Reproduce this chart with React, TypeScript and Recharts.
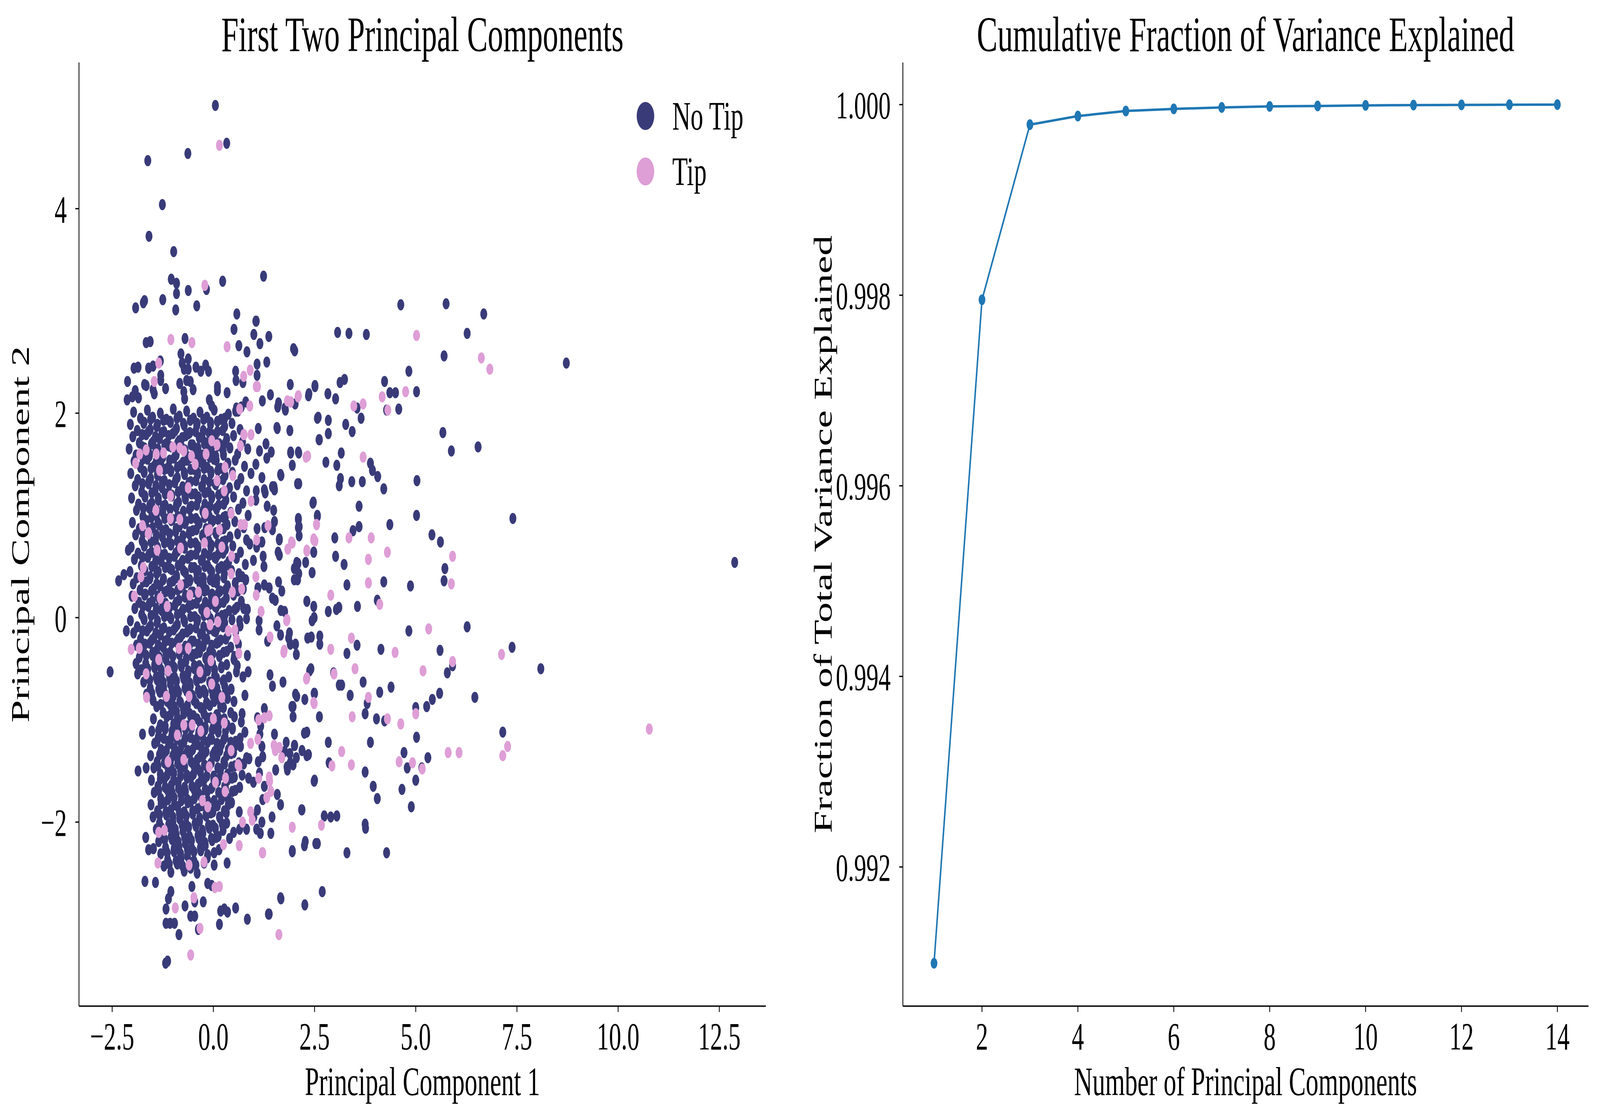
import { ScatterChart, Scatter, LineChart, Line, XAxis, YAxis } from 'recharts';

const FONT = '"Liberation Serif", "Times New Roman", serif';
const NAVY = '#393b79';
const PINK = '#de9ed6';
const BLUE = '#1f77b4';
const PAGE_W = 6564;
const PAGE_H = 2865;

// ---- left panel: first two principal components, flat [x, y, x, y, ...] ----
const noTipCore = [
  -1.97,2.01, -1.8,1.95, -1.63,2.03, -1.5,1.96, -1.31,2.0, -1.16,1.94, -0.99,2.04, -0.84,1.97, -0.66,2.02, -0.49,1.95, -0.33,2.01, -0.16,1.96, 0.02,2.03, 0.19,1.94, 0.37,1.99, 0.55,2.02,
  -2.05,1.89, -1.88,1.83, -1.71,1.91, -1.56,1.84, -1.4,1.87, -1.22,1.82, -1.07,1.92, -0.91,1.85, -0.74,1.9, -0.58,1.81, -0.41,1.88, -0.25,1.83, -0.07,1.91, 0.1,1.82, 0.28,1.87, 0.46,1.9, 0.66,1.84,
  -1.99,1.77, -1.83,1.71, -1.66,1.79, -1.49,1.72, -1.33,1.75, -1.17,1.7, -1.0,1.8, -0.85,1.73, -0.68,1.78, -0.51,1.69, -0.35,1.76, -0.18,1.71, -0.02,1.79, 0.15,1.7, 0.33,1.75, 0.5,1.78, 0.72,1.72,
  -2.08,1.65, -1.91,1.59, -1.75,1.67, -1.58,1.6, -1.42,1.63, -1.26,1.58, -1.1,1.68, -0.93,1.61, -0.77,1.66, -0.6,1.57, -0.44,1.64, -0.27,1.59, -0.11,1.67, 0.06,1.58, 0.24,1.63, 0.41,1.66, 0.6,1.6, 0.85,1.65,
  -1.96,1.53, -1.8,1.47, -1.63,1.55, -1.47,1.48, -1.3,1.51, -1.14,1.46, -0.97,1.56, -0.81,1.49, -0.65,1.54, -0.48,1.45, -0.32,1.52, -0.15,1.47, 0.01,1.55, 0.18,1.46, 0.36,1.51, 0.54,1.54, 0.77,1.48,
  -2.04,1.41, -1.87,1.35, -1.71,1.43, -1.55,1.36, -1.38,1.39, -1.21,1.34, -1.05,1.44, -0.89,1.37, -0.72,1.42, -0.56,1.33, -0.39,1.4, -0.23,1.35, -0.06,1.43, 0.11,1.34, 0.29,1.39, 0.47,1.42, 0.68,1.36, 0.93,1.41,
  -1.93,1.29, -1.77,1.23, -1.6,1.31, -1.44,1.24, -1.27,1.27, -1.11,1.22, -0.95,1.32, -0.78,1.25, -0.62,1.3, -0.45,1.21, -0.29,1.28, -0.12,1.23, 0.04,1.31, 0.22,1.22, 0.4,1.27, 0.59,1.3, 0.82,1.24,
  -2.02,1.17, -1.85,1.11, -1.69,1.19, -1.52,1.12, -1.36,1.15, -1.19,1.1, -1.03,1.2, -0.86,1.13, -0.7,1.18, -0.54,1.09, -0.37,1.16, -0.21,1.11, -0.04,1.19, 0.13,1.1, 0.31,1.15, 0.5,1.18, 0.73,1.12,
  -1.9,1.05, -1.74,0.99, -1.58,1.07, -1.41,1.0, -1.25,1.03, -1.08,0.98, -0.92,1.08, -0.76,1.01, -0.59,1.06, -0.43,0.97, -0.26,1.04, -0.1,0.99, 0.07,1.07, 0.25,0.98, 0.43,1.03, 0.62,1.06, 0.86,1.0,
  -2.0,0.93, -1.83,0.87, -1.66,0.95, -1.5,0.88, -1.34,0.91, -1.17,0.86, -1.01,0.96, -0.84,0.89, -0.68,0.94, -0.51,0.85, -0.35,0.92, -0.18,0.87, -0.01,0.95, 0.16,0.86, 0.34,0.91, 0.53,0.94, 0.75,0.88,
  -1.92,0.81, -1.76,0.75, -1.59,0.83, -1.43,0.76, -1.26,0.79, -1.1,0.74, -0.93,0.84, -0.77,0.77, -0.6,0.82, -0.44,0.73, -0.27,0.8, -0.11,0.75, 0.06,0.83, 0.23,0.74, 0.41,0.79, 0.6,0.82, 0.82,0.76,
  -2.03,0.69, -1.86,0.63, -1.7,0.71, -1.53,0.64, -1.37,0.67, -1.2,0.62, -1.04,0.72, -0.88,0.65, -0.71,0.7, -0.55,0.61, -0.38,0.68, -0.22,0.63, -0.05,0.71, 0.12,0.62, 0.3,0.67, 0.48,0.7, 0.67,0.64,
  -1.95,0.57, -1.78,0.51, -1.62,0.59, -1.45,0.52, -1.29,0.55, -1.12,0.5, -0.96,0.6, -0.8,0.53, -0.63,0.58, -0.47,0.49, -0.3,0.56, -0.14,0.51, 0.03,0.59, 0.2,0.5, 0.38,0.55, 0.57,0.58, 0.79,0.52,
  -2.06,0.45, -1.89,0.39, -1.73,0.47, -1.56,0.4, -1.4,0.43, -1.23,0.38, -1.07,0.48, -0.91,0.41, -0.74,0.46, -0.58,0.37, -0.41,0.44, -0.25,0.39, -0.08,0.47, 0.09,0.38, 0.27,0.43, 0.45,0.46, 0.64,0.4,
  -1.98,0.33, -1.81,0.27, -1.65,0.35, -1.48,0.28, -1.32,0.31, -1.15,0.26, -0.99,0.36, -0.82,0.29, -0.66,0.34, -0.5,0.25, -0.33,0.32, -0.17,0.27, 0.0,0.35, 0.17,0.26, 0.35,0.31, 0.54,0.34, 0.74,0.28,
  -2.01,0.21, -1.84,0.15, -1.68,0.23, -1.51,0.16, -1.35,0.19, -1.18,0.14, -1.02,0.24, -0.85,0.17, -0.69,0.22, -0.53,0.13, -0.36,0.2, -0.2,0.15, -0.03,0.23, 0.14,0.14, 0.32,0.19, 0.5,0.22, 0.69,0.16,
  -1.94,0.09, -1.77,0.03, -1.61,0.11, -1.44,0.04, -1.28,0.07, -1.11,0.02, -0.95,0.12, -0.79,0.05, -0.62,0.1, -0.46,0.01, -0.29,0.08, -0.13,0.03, 0.04,0.11, 0.21,0.02, 0.39,0.07, 0.58,0.1,
  -2.05,-0.03, -1.88,-0.09, -1.72,-0.01, -1.55,-0.08, -1.39,-0.05, -1.22,-0.1, -1.06,0.0, -0.89,-0.07, -0.73,-0.02, -0.57,-0.11, -0.4,-0.04, -0.24,-0.09, -0.07,-0.01, 0.1,-0.1, 0.28,-0.05, 0.46,-0.02, 0.66,-0.08,
  -1.97,-0.15, -1.8,-0.21, -1.64,-0.13, -1.47,-0.2, -1.31,-0.17, -1.14,-0.22, -0.98,-0.12, -0.81,-0.19, -0.65,-0.14, -0.49,-0.23, -0.32,-0.16, -0.16,-0.21, 0.01,-0.13, 0.18,-0.22, 0.36,-0.17, 0.55,-0.14,
  -1.9,-0.27, -1.73,-0.33, -1.57,-0.25, -1.4,-0.32, -1.24,-0.29, -1.07,-0.34, -0.91,-0.24, -0.74,-0.31, -0.58,-0.26, -0.42,-0.35, -0.25,-0.28, -0.09,-0.33, 0.08,-0.25, 0.25,-0.34, 0.43,-0.29, 0.62,-0.26,
  -1.83,-0.39, -1.67,-0.45, -1.5,-0.37, -1.34,-0.44, -1.17,-0.41, -1.01,-0.46, -0.84,-0.36, -0.68,-0.43, -0.52,-0.38, -0.35,-0.47, -0.19,-0.4, -0.02,-0.45, 0.15,-0.37, 0.33,-0.46, 0.51,-0.41,
  -1.78,-0.51, -1.62,-0.57, -1.45,-0.49, -1.29,-0.56, -1.12,-0.53, -0.96,-0.58, -0.79,-0.48, -0.63,-0.55, -0.47,-0.5, -0.3,-0.59, -0.14,-0.52, 0.03,-0.57, 0.2,-0.49, 0.38,-0.58, 0.57,-0.53,
  -1.72,-0.63, -1.56,-0.69, -1.39,-0.61, -1.23,-0.68, -1.06,-0.65, -0.9,-0.7, -0.73,-0.6, -0.57,-0.67, -0.41,-0.62, -0.24,-0.71, -0.08,-0.64, 0.09,-0.69, 0.26,-0.61, 0.44,-0.7,
  -1.65,-0.75, -1.49,-0.81, -1.32,-0.73, -1.16,-0.8, -0.99,-0.77, -0.83,-0.82, -0.66,-0.72, -0.5,-0.79, -0.34,-0.74, -0.17,-0.83, -0.01,-0.76, 0.16,-0.81, 0.33,-0.73, 0.51,-0.82,
  -1.4,-0.87, -1.24,-0.93, -1.07,-0.85, -0.91,-0.92, -0.74,-0.89, -0.58,-0.94, -0.42,-0.84, -0.25,-0.91, -0.09,-0.86, 0.08,-0.95, 0.25,-0.88, 0.43,-0.93,
  -1.48,-0.99, -1.31,-1.05, -1.15,-0.97, -0.98,-1.04, -0.82,-1.01, -0.65,-1.06, -0.49,-0.96, -0.33,-1.03, -0.16,-0.98, 0.0,-1.07, 0.17,-1.0, 0.34,-1.05, 0.52,-0.97,
  -1.52,-1.11, -1.36,-1.17, -1.19,-1.09, -1.03,-1.16, -0.86,-1.13, -0.7,-1.18, -0.54,-1.08, -0.37,-1.15, -0.21,-1.1, -0.04,-1.19, 0.12,-1.12, 0.29,-1.17, 0.47,-1.09, 0.66,-1.18,
  -1.45,-1.23, -1.29,-1.29, -1.12,-1.21, -0.96,-1.28, -0.79,-1.25, -0.63,-1.3, -0.47,-1.2, -0.3,-1.27, -0.14,-1.22, 0.03,-1.31, 0.2,-1.24, 0.37,-1.29, 0.55,-1.21,
  -1.55,-1.35, -1.39,-1.41, -1.22,-1.33, -1.06,-1.4, -0.89,-1.37, -0.73,-1.42, -0.57,-1.32, -0.4,-1.39, -0.24,-1.34, -0.07,-1.43, 0.09,-1.36, 0.26,-1.41, 0.44,-1.33, 0.63,-1.42,
  -1.47,-1.47, -1.31,-1.53, -1.14,-1.45, -0.98,-1.52, -0.81,-1.49, -0.65,-1.54, -0.49,-1.44, -0.32,-1.51, -0.16,-1.46, 0.01,-1.55, 0.18,-1.48, 0.35,-1.53, 0.53,-1.45, 0.71,-1.54,
  -1.53,-1.59, -1.37,-1.65, -1.2,-1.57, -1.04,-1.64, -0.87,-1.61, -0.71,-1.66, -0.55,-1.56, -0.38,-1.63, -0.22,-1.58, -0.05,-1.67, 0.11,-1.6, 0.28,-1.65, 0.46,-1.57, 0.65,-1.66,
  -1.46,-1.71, -1.3,-1.77, -1.13,-1.69, -0.97,-1.76, -0.8,-1.73, -0.64,-1.78, -0.48,-1.68, -0.31,-1.75, -0.15,-1.7, 0.02,-1.79, 0.19,-1.72, 0.36,-1.77, 0.54,-1.69,
  -1.54,-1.83, -1.38,-1.89, -1.21,-1.81, -1.05,-1.88, -0.88,-1.85, -0.72,-1.9, -0.56,-1.8, -0.39,-1.87, -0.23,-1.82, -0.06,-1.91, 0.1,-1.84, 0.27,-1.89, 0.45,-1.81, 0.64,-1.9,
  -1.49,-1.95, -1.33,-2.01, -1.16,-1.93, -1.0,-2.0, -0.83,-1.97, -0.67,-2.02, -0.51,-1.92, -0.34,-1.99, -0.18,-1.94, -0.01,-2.03, 0.16,-1.96, 0.33,-2.01,
  -1.41,-2.07, -1.25,-2.13, -1.08,-2.05, -0.92,-2.12, -0.75,-2.09, -0.59,-2.14, -0.43,-2.04, -0.26,-2.11, -0.1,-2.06, 0.07,-2.15, 0.24,-2.08,
  -1.35,-2.19, -1.18,-2.25, -1.02,-2.17, -0.85,-2.24, -0.69,-2.21, -0.53,-2.26, -0.36,-2.16, -0.2,-2.23, -0.03,-2.18, 0.14,-2.27,
  -1.3,-2.31, -1.13,-2.37, -0.97,-2.29, -0.8,-2.36, -0.64,-2.33, -0.48,-2.38, -0.31,-2.28, -0.15,-2.35, 0.02,-2.3,
  -1.22,-2.43, -1.05,-2.49, -0.89,-2.41, -0.72,-2.48, -0.56,-2.45, -0.4,-2.5, -0.23,-2.4,
];

// second, tighter layer where the cloud is solid
const noTipDense = [
  -1.72,1.9, -1.55,1.94, -1.38,1.89, -1.23,1.93, -1.06,1.91, -0.9,1.95, -0.72,1.88, -0.57,1.93, -0.4,1.9, -0.24,1.94, -0.07,1.89, 0.1,1.92, 0.28,1.95,
  -1.76,1.79, -1.6,1.82, -1.43,1.77, -1.27,1.81, -1.1,1.78, -0.94,1.83, -0.77,1.76, -0.61,1.8, -0.44,1.82, -0.28,1.77, -0.11,1.81, 0.05,1.78, 0.23,1.83,
  -1.7,1.66, -1.53,1.7, -1.37,1.65, -1.2,1.69, -1.04,1.67, -0.88,1.71, -0.7,1.64, -0.55,1.69, -0.38,1.66, -0.22,1.7, -0.05,1.65, 0.12,1.68, 0.3,1.71,
  -1.74,1.55, -1.58,1.58, -1.41,1.53, -1.25,1.57, -1.08,1.54, -0.92,1.59, -0.75,1.52, -0.59,1.56, -0.42,1.58, -0.26,1.53, -0.09,1.57, 0.07,1.54, 0.25,1.59,
  -1.71,1.42, -1.54,1.46, -1.38,1.41, -1.21,1.45, -1.05,1.43, -0.89,1.47, -0.71,1.4, -0.56,1.45, -0.39,1.42, -0.23,1.46, -0.06,1.41, 0.11,1.44, 0.29,1.47,
  -1.75,1.31, -1.59,1.34, -1.42,1.29, -1.26,1.33, -1.09,1.3, -0.93,1.35, -0.76,1.28, -0.6,1.32, -0.43,1.34, -0.27,1.29, -0.1,1.33, 0.06,1.3, 0.24,1.35,
  -1.69,1.18, -1.52,1.22, -1.36,1.17, -1.19,1.21, -1.03,1.19, -0.87,1.23, -0.69,1.16, -0.54,1.21, -0.37,1.18, -0.21,1.22, -0.04,1.17, 0.13,1.2, 0.31,1.23,
  -1.73,1.07, -1.57,1.1, -1.4,1.05, -1.24,1.09, -1.07,1.06, -0.91,1.11, -0.74,1.04, -0.58,1.08, -0.41,1.1, -0.25,1.05, -0.08,1.09, 0.08,1.06, 0.26,1.11,
  -1.7,0.94, -1.53,0.98, -1.37,0.93, -1.2,0.97, -1.04,0.95, -0.88,0.99, -0.7,0.92, -0.55,0.97, -0.38,0.94, -0.22,0.98, -0.05,0.93, 0.12,0.96, 0.3,0.99,
  -1.74,0.83, -1.58,0.86, -1.41,0.81, -1.25,0.85, -1.08,0.82, -0.92,0.87, -0.75,0.8, -0.59,0.84, -0.42,0.86, -0.26,0.81, -0.09,0.85, 0.07,0.82, 0.25,0.87,
  -1.71,0.7, -1.54,0.74, -1.38,0.69, -1.21,0.73, -1.05,0.71, -0.89,0.75, -0.71,0.68, -0.56,0.73, -0.39,0.7, -0.23,0.74, -0.06,0.69, 0.11,0.72, 0.29,0.75,
  -1.75,0.59, -1.59,0.62, -1.42,0.57, -1.26,0.61, -1.09,0.58, -0.93,0.63, -0.76,0.56, -0.6,0.6, -0.43,0.62, -0.27,0.57, -0.1,0.61, 0.06,0.58, 0.24,0.63,
  -1.69,0.46, -1.52,0.5, -1.36,0.45, -1.19,0.49, -1.03,0.47, -0.87,0.51, -0.69,0.44, -0.54,0.49, -0.37,0.46, -0.21,0.5, -0.04,0.45, 0.13,0.48, 0.31,0.51,
  -1.73,0.35, -1.57,0.38, -1.4,0.33, -1.24,0.37, -1.07,0.34, -0.91,0.39, -0.74,0.32, -0.58,0.36, -0.41,0.38, -0.25,0.33, -0.08,0.37, 0.08,0.34, 0.26,0.39,
  -1.7,0.22, -1.53,0.26, -1.37,0.21, -1.2,0.25, -1.04,0.23, -0.88,0.27, -0.7,0.2, -0.55,0.25, -0.38,0.22, -0.22,0.26, -0.05,0.21, 0.12,0.24, 0.3,0.27,
  -1.74,0.11, -1.58,0.14, -1.41,0.09, -1.25,0.13, -1.08,0.1, -0.92,0.15, -0.75,0.08, -0.59,0.12, -0.42,0.14, -0.26,0.09, -0.09,0.13, 0.07,0.1, 0.25,0.15,
  -1.71,-0.02, -1.54,0.02, -1.38,-0.03, -1.21,0.01, -1.05,-0.01, -0.89,0.03, -0.71,-0.04, -0.56,0.01, -0.39,-0.02, -0.23,0.02, -0.06,-0.03, 0.11,0.0, 0.29,0.03,
  -1.75,-0.13, -1.59,-0.1, -1.42,-0.15, -1.26,-0.11, -1.09,-0.14, -0.93,-0.09, -0.76,-0.16, -0.6,-0.12, -0.43,-0.1, -0.27,-0.15, -0.1,-0.11, 0.06,-0.14, 0.24,-0.09,
  -1.69,-0.26, -1.52,-0.22, -1.36,-0.27, -1.19,-0.23, -1.03,-0.25, -0.87,-0.21, -0.69,-0.28, -0.54,-0.23, -0.37,-0.26, -0.21,-0.22, -0.04,-0.27, 0.13,-0.24, 0.31,-0.21,
  -1.66,-0.37, -1.5,-0.34, -1.33,-0.39, -1.17,-0.35, -1.0,-0.38, -0.84,-0.33, -0.67,-0.4, -0.51,-0.36, -0.34,-0.34, -0.18,-0.39, -0.01,-0.35, 0.15,-0.38, 0.33,-0.33,
  -1.62,-0.5, -1.45,-0.46, -1.29,-0.51, -1.12,-0.47, -0.96,-0.49, -0.8,-0.45, -0.62,-0.52, -0.47,-0.47, -0.3,-0.5, -0.14,-0.46, 0.03,-0.51, 0.2,-0.48,
  -1.57,-0.61, -1.41,-0.58, -1.24,-0.63, -1.08,-0.59, -0.91,-0.62, -0.75,-0.57, -0.58,-0.64, -0.42,-0.6, -0.25,-0.58, -0.09,-0.63, 0.08,-0.59, 0.24,-0.62,
  -1.52,-0.74, -1.35,-0.7, -1.19,-0.75, -1.02,-0.71, -0.86,-0.73, -0.7,-0.69, -0.52,-0.76, -0.37,-0.71, -0.2,-0.74, -0.04,-0.7, 0.13,-0.75, 0.3,-0.72,
  -1.3,-0.85, -1.14,-0.82, -0.97,-0.87, -0.81,-0.83, -0.64,-0.86, -0.48,-0.81, -0.31,-0.88, -0.15,-0.84, 0.02,-0.82, 0.18,-0.87,
  -1.06,-0.95, -0.89,-0.98, -0.73,-0.94, -0.56,-0.97, -0.4,-0.99, -0.23,-0.94, -0.07,-0.98, 0.1,-0.95, 0.27,-0.99,
  -1.35,-1.1, -1.19,-1.06, -1.02,-1.11, -0.86,-1.07, -0.69,-1.09, -0.53,-1.05, -0.36,-1.12, -0.2,-1.07, -0.03,-1.1, 0.13,-1.06, 0.3,-1.11, 0.47,-1.08,
  -1.39,-1.21, -1.23,-1.18, -1.06,-1.23, -0.9,-1.19, -0.73,-1.22, -0.57,-1.17, -0.4,-1.24, -0.24,-1.2, -0.07,-1.18, 0.09,-1.23, 0.26,-1.19, 0.43,-1.22,
  -1.33,-1.34, -1.16,-1.3, -1.0,-1.35, -0.83,-1.31, -0.67,-1.33, -0.51,-1.29, -0.33,-1.36, -0.18,-1.31, -0.01,-1.34, 0.16,-1.3, 0.33,-1.35, 0.5,-1.32,
  -1.37,-1.45, -1.21,-1.42, -1.04,-1.47, -0.88,-1.43, -0.71,-1.46, -0.55,-1.41, -0.38,-1.48, -0.22,-1.44, -0.05,-1.42, 0.11,-1.47, 0.28,-1.43, 0.45,-1.46,
  -1.31,-1.58, -1.14,-1.54, -0.98,-1.59, -0.81,-1.55, -0.65,-1.57, -0.49,-1.53, -0.31,-1.6, -0.16,-1.55, 0.01,-1.58, 0.18,-1.54, 0.35,-1.59, 0.52,-1.56,
  -1.35,-1.69, -1.19,-1.66, -1.02,-1.71, -0.86,-1.67, -0.69,-1.7, -0.53,-1.65, -0.36,-1.72, -0.2,-1.68, -0.03,-1.66, 0.13,-1.71, 0.3,-1.67, 0.47,-1.7,
  -1.29,-1.82, -1.12,-1.78, -0.96,-1.83, -0.79,-1.79, -0.63,-1.81, -0.47,-1.77, -0.29,-1.84, -0.14,-1.79, 0.03,-1.82, 0.2,-1.78, 0.37,-1.83,
  -1.33,-1.93, -1.17,-1.9, -1.0,-1.95, -0.84,-1.91, -0.67,-1.94, -0.51,-1.89, -0.34,-1.96, -0.18,-1.92, -0.01,-1.9, 0.15,-1.95, 0.32,-1.91,
  -1.27,-2.06, -1.1,-2.02, -0.94,-2.07, -0.77,-2.03, -0.61,-2.05, -0.45,-2.01, -0.27,-2.08, -0.12,-2.03, 0.05,-2.06, 0.22,-2.02,
  -1.2,-2.17, -1.04,-2.14, -0.87,-2.19, -0.71,-2.15, -0.54,-2.18, -0.38,-2.13, -0.21,-2.2, -0.05,-2.16, 0.12,-2.14,
  -1.14,-2.3, -0.97,-2.26, -0.81,-2.31, -0.64,-2.27, -0.48,-2.29, -0.32,-2.25, -0.14,-2.32,
  -1.09,-2.41, -0.92,-2.38, -0.76,-2.43, -0.59,-2.39, -0.43,-2.42,
];

const noTipOuter = [
  0.05,5.01, 0.33,4.64, -0.63,4.54, -1.62,4.47, -1.26,4.04, -1.59,3.73, -0.98,3.58, -1.04,3.31, -0.91,3.27, -0.91,3.17,
  -0.93,3.01, -0.62,3.2, -1.25,3.11, -0.41,3.05, -0.17,3.21, 0.23,3.29, 1.24,3.34, -1.92,3.03, -1.73,3.08, -1.7,3.1,
  0.58,2.97, 0.51,2.82, 1.05,2.9, 1.0,2.77, 1.15,2.68, 1.37,2.75, 0.63,2.66, 0.83,2.6, 2.01,2.61, -0.7,2.73,
  -1.66,2.69, -1.56,2.7, -0.8,2.58, -0.62,2.53, -1.31,2.51, -1.96,2.44, -1.86,2.45, -1.6,2.44, -1.49,2.46, -0.77,2.49,
  -0.72,2.43, -0.62,2.43, -0.43,2.45, -0.31,2.41, -0.19,2.47, -0.12,2.41, 0.55,2.41, 0.56,2.32, 0.73,2.3, 1.08,2.48,
  1.08,2.37, 1.32,2.5, 1.9,2.28, -2.12,2.31, -1.3,2.37, -1.3,2.32, -1.7,2.28, -1.66,2.27, -1.18,2.24, -0.83,2.29,
  -0.73,2.21, -0.5,2.23, -0.66,2.32, -0.57,2.31, -1.93,2.22, -2.13,2.13, -2.0,2.16, -1.85,2.15, -1.49,2.23, -1.46,2.19,
  -0.71,2.14, 0.1,2.26, 0.1,2.22, 0.34,2.2, -0.1,2.13, -0.04,2.07, 0.8,2.11, 0.69,2.06, 0.57,2.05, 0.61,2.02,
  1.21,2.12, 1.41,2.18, 1.59,2.06, 1.78,2.03, 1.91,2.11, 2.02,2.09, 2.35,2.17, 2.51,2.26, 2.59,1.96, 2.61,1.74,
  1.11,1.85, 1.58,1.85, 1.89,1.83, 1.3,1.7, 1.43,1.62, 1.32,1.56, 1.14,1.63, 1.05,1.5, 1.91,1.61, 2.11,1.61,
  1.95,1.49, 1.67,1.39, 1.2,1.37, 2.11,1.31, 1.06,1.24, 1.05,1.15, 1.26,1.25, 1.28,1.22, 1.46,1.28, 1.51,1.25,
  2.47,1.13, 1.33,1.09, 1.49,1.05, 2.57,1.0, 2.1,0.97, 2.12,0.89, 2.12,0.8, 1.51,0.94, 1.46,0.86, 1.27,0.88,
  1.08,0.87, 1.2,0.74, 1.63,0.77,
  12.88,0.54, 8.72,2.49, 8.09,-0.5, 7.4,0.97, 7.38,-0.29, 7.15,-1.12, 6.68,2.97, 6.27,2.78, 6.54,1.67, 6.27,-0.09,
  6.46,-0.78, 5.75,3.07, 5.7,2.56, 5.67,1.81, 5.88,1.63, 5.72,0.48, 5.7,0.36, 5.6,-0.32, 5.61,0.74, 5.4,0.81,
  5.91,-0.47, 5.78,-0.54, 5.59,-0.74, 5.41,-0.8, 5.27,-0.87, 5.3,-1.37, 5.15,-1.47, 5.0,-0.88, 5.02,-1.17, 5.0,-1.59,
  4.89,-1.85, 4.79,-1.47, 4.66,-1.68, 4.71,-1.32, 5.03,1.34, 5.02,2.21, 5.02,1.0, 4.83,2.41, 4.87,0.31, 4.83,-0.13,
  4.63,3.06, 4.5,2.2, 4.58,2.04, 4.36,2.2, 4.28,2.03, 4.23,2.31, 4.21,1.26, 4.36,0.91, 4.21,0.35, 4.05,0.17,
  4.14,-0.31, 4.11,-0.73, 4.39,-0.68, 4.23,-1.01, 4.03,-0.99, 4.05,-1.77, 3.95,-1.65, 4.28,-2.3, 4.06,1.38, 3.93,1.44,
  3.88,1.51, 3.68,1.33, 3.6,1.09, 3.6,0.89, 3.45,0.85, 3.42,1.33, 3.65,1.95, 3.55,2.05, 3.78,2.77, 3.35,2.78,
  3.07,2.79, 3.24,2.33, 3.13,2.3, 3.02,2.14, 2.83,2.19, 3.27,1.89, 3.43,1.82, 2.84,1.93, 2.84,1.8, 2.62,1.74,
  2.57,1.95, 2.51,2.27, 2.36,2.19, 3.16,1.61, 3.14,1.36, 3.11,1.29, 2.78,1.52, 3.05,1.49, 2.46,1.12, 2.57,0.99,
  3.0,0.78, 3.23,0.52, 3.3,0.32, 3.02,0.6, 3.04,0.08, 3.1,0.1, 2.84,0.06, 2.48,0.64, 2.31,0.16, 2.48,0.11,
  3.56,0.11, 3.55,-0.27, 3.38,-0.76, 3.3,-0.35, 3.11,-0.66, 3.17,-0.66, 2.97,-0.54, 3.7,-0.63, 3.8,-0.84, 3.75,-0.94,
  3.88,-1.22, 3.75,-1.51, 3.75,-2.02, 3.76,-2.06, 3.3,-2.3, 3.05,-1.94, 2.9,-1.95, 2.74,-1.94, 2.86,-1.42, 2.84,-1.22,
  2.69,-2.68, 2.53,-2.21, 2.5,-1.59, 2.5,-0.74, 2.38,-0.52, 2.26,-0.8, 2.31,-1.12, 2.31,-1.35, 2.27,-2.19, 2.18,-1.88,
  2.26,-2.81, 1.95,-2.28, 2.05,-1.37, 1.9,-1.42, 1.83,-1.49, 2.0,-1.25, 2.03,-0.75, 1.94,-0.87, 1.86,-0.2, 1.76,0.06,
  2.0,0.48, 2.08,0.37, 2.09,0.53, 2.1,0.88, 2.1,0.96, 2.08,1.31, 2.1,1.62, 1.91,1.62, 1.98,2.63, 1.77,2.05,
  1.57,1.86, 1.61,2.1, 1.66,1.4, 1.5,1.28, 1.6,0.64, 1.38,-2.9, 1.67,-2.75, 1.06,2.9,
  -2.55,-0.53, -2.34,0.36, -2.21,0.42, -2.15,-0.13, -2.1,0.66, -1.91,-0.45, -1.87,-0.55, -1.75,-1.14, -1.86,-1.5, -1.66,-1.47,
  -1.67,-2.15, -1.6,-2.27, -1.48,-2.26, -1.69,-2.58, -1.43,-2.59, -1.18,-3.38, -1.13,-3.36, -0.85,-3.1, -0.37,-3.05, -1.17,-2.99,
  -1.07,-2.99, -0.96,-2.99, -1.17,-2.85, -1.11,-2.75, -1.05,-2.68, -0.7,-2.82, -0.56,-2.92, -0.46,-2.92, -0.46,-2.78, -0.25,-2.78,
  -0.53,-2.63, -0.14,-2.6, -0.04,-2.62, 0.18,-2.87, 0.27,-2.85, 0.35,-2.88, 0.15,-3.0, 0.55,-2.84, 0.84,-2.95, 1.36,-2.9,
  1.66,-2.74, 0.34,-2.4, 0.02,-2.42, 1.95,-2.29, 2.25,-2.23, 2.57,-2.21, 2.19,-1.88, 1.66,-1.83, 1.58,-1.73, 2.49,-1.6,
  1.54,-1.49, 1.09,-1.88, 1.16,-2.11, 1.42,-2.11, 1.45,-1.95, 1.2,-2.0, 1.26,-1.65, 1.22,-1.78, 1.0,-1.95, 1.07,-2.07,
  0.82,-2.07, 0.65,-2.07, 0.5,-2.1, 0.4,-2.16, 0.87,-1.57, 0.99,-1.61, 0.75,-1.43, 0.82,-1.37, 0.88,-1.38, 1.11,-1.41,
  1.14,-1.52, 1.22,-1.36, 1.2,-1.26, 1.15,-1.14, 1.17,-1.06, 1.26,-0.89, 1.09,-0.98, 0.78,-0.76, 0.86,-0.53, 0.73,-0.58,
  0.71,-0.94, 0.69,-1.02, 0.78,-1.12, 0.67,-1.26, 0.53,-1.26, 1.4,-0.56, 1.46,-0.67, 1.72,-0.63, 1.51,-1.14, 1.8,-1.22,
  1.76,-1.31, 1.89,-1.33, 2.01,-1.25, 2.05,-1.37, 1.97,-1.44, 1.82,-1.46, 2.19,-1.3, 2.35,-1.34, 2.25,-1.13, 1.97,-0.97,
  1.97,-0.87, 2.06,-0.77, 2.62,-0.97, 2.49,-0.74, 2.41,-0.5, 1.34,-0.23, 1.67,0.07, 1.9,-0.26, 2.03,-0.26, 2.05,-0.36,
  1.88,-0.15, 1.57,-0.08, 1.66,-0.17, 2.42,-0.19, 2.33,-0.2, 2.49,0.0, 2.44,-0.03, 2.31,0.16, 2.63,-0.18, 2.63,-0.26,
  2.28,0.54, 2.44,0.44, 2.48,0.64, 2.06,0.54, 2.11,0.43, 2.0,0.37, 1.63,0.61, 1.63,0.76, 1.69,0.26, 1.61,0.35,
  1.46,0.19, 1.53,0.17, 1.1,0.29, 1.26,0.32, 1.38,0.29, 1.13,-0.03, 1.13,-0.12, 1.25,0.5, 1.23,0.6, 1.07,0.69,
  0.9,0.72, 0.99,0.56, 0.8,0.37, 0.71,0.4, 0.84,0.08, 0.82,-0.01, 0.53,0.08, 0.84,-0.37, 0.52,-0.38, 0.59,-0.47,
  0.28,-0.67, 0.35,-0.79, 0.63,0.43, 0.61,0.26, 0.75,0.09, 0.65,-0.03,
];

const tipPoints = [
  10.77,-1.09, 7.12,-0.36, 7.15,-1.35, 7.27,-1.26, 6.62,2.54, 6.83,2.43, 5.88,0.33, 5.91,0.6, 5.91,-0.43, 5.8,-1.32,
  6.07,-1.32, 5.02,2.76, 4.75,2.21, 4.31,2.03, 4.17,2.16, 5.32,-0.11, 5.18,-0.52, 5.0,-0.94, 4.63,-1.04, 4.59,-1.41,
  4.92,-1.42, 5.16,-1.48, 4.49,-0.34, 4.3,0.64, 4.11,0.13, 3.83,0.34, 3.83,0.57, 3.9,0.78, 3.7,1.57, 3.7,2.09,
  3.47,2.07, 4.3,-0.99, 3.83,-0.78, 3.43,-0.97, 3.41,-1.44, 3.5,-0.5, 3.41,-0.2, 3.35,0.78, 3.17,-1.31, 2.93,-1.45,
  2.98,-0.55, 2.9,-0.31, 2.9,0.22, 2.48,-0.83, 2.31,-0.59, 2.67,-2.03, 2.33,1.58, 2.55,0.91, 2.51,0.75, 2.31,0.65,
  2.1,2.17, 1.91,2.11, 1.95,0.73, 1.81,-0.03, 1.75,-0.32, 1.62,-3.1, 1.95,-2.05, 1.22,-2.3, 1.38,-1.56, 1.63,-1.27,
  0.9,2.07, 0.75,1.79, 1.06,2.26, 0.91,2.42,
  0.15,4.62, -0.21,3.25, 0.34,2.65, -1.05,2.72, -0.53,2.69, -1.35,2.49, 0.75,2.36, 1.09,2.26, -1.46,2.31, 0.65,2.04,
  1.83,2.12, 2.09,2.16, 0.93,1.79, 0.76,1.79, 2.29,1.57, 0.93,1.14, 2.55,0.91, 2.48,0.77, 1.35,0.9, 0.77,0.91,
  1.07,0.76, 1.93,0.74,
  -1.82,1.6, -1.66,1.64, -1.41,1.6, -1.23,1.61, -1.0,1.67, -0.83,1.66, -0.73,1.63, -0.54,1.58, -0.45,1.5, -0.18,1.6,
  -0.04,1.73, 0.09,1.69, 0.29,1.47, 0.48,1.39, 0.67,1.68, 0.09,1.34, 0.27,1.24, -1.06,1.19, -0.62,1.27, -1.33,1.44,
  -1.92,1.51, -1.42,1.05, -0.83,0.96, -1.06,0.97, -0.09,0.86, -0.2,1.02, -1.75,0.9, -1.61,0.82, 0.44,1.02, 0.68,0.91,
  0.15,0.86, -0.22,0.73,
  -1.6,0.83, -1.39,0.66, -0.81,0.68, -0.14,0.85, 0.21,0.69, 0.45,0.6, 1.05,0.4, 1.18,0.06, 0.7,0.28, 0.44,0.43,
  0.47,0.25, -1.73,0.49, -1.79,0.4, -1.95,0.21, -2.03,-0.31, -1.83,-0.3, -1.66,-0.55, -1.65,-0.78, -1.35,-0.41, -1.14,0.11,
  -1.31,0.19, -0.81,0.32, -0.58,0.22, -0.37,0.25, 0.05,0.16, -0.08,-0.07, 0.11,-0.04, 0.37,-0.13, 0.53,-0.12, -0.06,-0.42,
  -0.16,0.05, -0.33,-0.53, -0.62,-0.3, -0.85,-0.3, -1.12,-0.52, -1.16,-0.77, -0.6,-0.77, -0.04,-0.65, 0.21,-0.78, 0.63,-0.35,
  0.57,-0.21, -0.73,-1.05, -0.52,-1.05, -0.31,-1.11, -0.89,-1.15, 0.0,-0.99, 0.27,-1.03, 0.44,-1.3, -1.12,-1.41, -0.73,-1.39,
  -0.1,-1.46, 0.05,-1.61, 0.3,-1.57, -0.27,-1.79, -0.14,-1.85, 0.29,-1.7, 0.61,-1.44, 0.92,-1.23, 1.1,-1.19, 1.12,-1.0,
  1.26,-0.98, 1.38,-0.96, 1.5,-1.25, 1.53,-1.3, 1.69,-1.37, 1.12,-1.57, 1.39,-1.6, 1.42,-1.7, 1.32,-1.76, 0.92,-1.9,
  0.96,-1.98, 0.72,-2.0, 0.64,-2.23, 0.25,-2.22, 1.21,-2.3, 1.74,-0.34, 1.82,-0.02, 1.4,-0.19, 2.3,-0.6, 2.49,-0.84,
  2.48,0.76, 2.31,0.66, 1.84,0.67, 1.06,0.22, 0.63,-1.45, -1.35,-2.1, -1.21,-2.08, -0.6,-2.42, -0.23,-2.39, -1.37,-2.4,
  0.04,-2.64, 0.15,-2.63, -0.94,-2.84, -0.48,-2.74, -0.33,-3.04, -0.56,-3.3,
];

const pcaXTicks = [-2.5, 0, 2.5, 5, 7.5, 10, 12.5];
const pcaYTicks = [-2, 0, 2, 4];
const legendLabels = ['No Tip', 'Tip'];

// ---- right panel: cumulative variance explained ----
const componentCounts = [1, 2, 3, 4, 5, 6, 7, 8, 9, 10, 11, 12, 13, 14];
const cumulativeVariance = [
  0.99099, 0.997952, 0.99979, 0.99988, 0.999933, 0.999955, 0.99997,
  0.999981, 0.999986, 0.999992, 0.999995, 0.999997, 0.999999, 1.0,
];
const varXTicks = [2, 4, 6, 8, 10, 12, 14];
const varYTicks = [0.992, 0.994, 0.996, 0.998, 1.0];

const toPoints = (flat: number[]) => {
  const out: { x: number; y: number }[] = [];
  for (let i = 0; i < flat.length; i += 2) out.push({ x: flat[i], y: flat[i + 1] });
  return out;
};

const fmt = (v: number, digits: number) => v.toFixed(digits).replace('-', '\u2212');

const dot = (fill: string) => (p: any) => <circle cx={p.cx} cy={p.cy} r={14.3} fill={fill} />;

const axisStroke = { stroke: '#000', strokeWidth: 3.3 };
const tickStyle = { fontSize: 100, fill: '#000', fontFamily: FONT };

export default function App() {
  const noTip = toPoints(noTipCore).concat(toPoints(noTipDense), toPoints(noTipOuter));
  const tip = toPoints(tipPoints);
  const varData = componentCounts.map((n, i) => ({ n, v: cumulativeVariance[i] }));

  // the browser window can come out smaller than the requested photo; stretch the page to fill it
  const vw = typeof window !== 'undefined' ? window.innerWidth : PAGE_W;
  const vh = typeof window !== 'undefined' ? window.innerHeight : PAGE_H;
  const sx = Math.min(1, vw / PAGE_W);
  const sy = Math.min(1, vh / PAGE_H);

  return (
    <div style={{ position: 'absolute', left: 0, top: 0, width: PAGE_W * sx, height: PAGE_H * sy, overflow: 'hidden', background: '#fff' }}>
      <div style={{ position: 'absolute', left: 0, top: 0, width: PAGE_W, height: PAGE_H, transform: `scale(${sx}, ${sy})`, transformOrigin: '0 0', background: '#fff' }}>
        <div style={{ position: 'absolute', left: 0, top: 0 }}>
          <ScatterChart width={3300} height={2865} margin={{ top: 160, right: 158, bottom: 0, left: 0 }}>
            <XAxis
              type="number"
              dataKey="x"
              domain={[-3.32, 13.65]}
              ticks={pcaXTicks}
              interval={0}
              allowDataOverflow
              height={289}
              axisLine={axisStroke}
              tickLine={axisStroke}
              tickSize={15}
              tickMargin={25}
              tick={tickStyle}
              tickFormatter={(v: number) => fmt(v, 1)}
            />
            <YAxis
              type="number"
              dataKey="y"
              domain={[-3.8, 5.43]}
              ticks={pcaYTicks}
              interval={0}
              allowDataOverflow
              width={324}
              axisLine={axisStroke}
              tickLine={axisStroke}
              tickSize={15}
              tickMargin={35}
              tick={tickStyle}
              tickFormatter={(v: number) => fmt(v, 0)}
            />
            <Scatter name="No Tip" data={noTip} fill={NAVY} shape={dot(NAVY)} isAnimationActive={false} />
            <Scatter name="Tip" data={tip} fill={PINK} shape={dot(PINK)} isAnimationActive={false} />
          </ScatterChart>
        </div>

        <div style={{ position: 'absolute', left: 3300, top: 0 }}>
          <LineChart width={3264} height={2865} data={varData} margin={{ top: 160, right: 47, bottom: 0, left: 0 }}>
            <XAxis
              type="number"
              dataKey="n"
              domain={[0.35, 14.65]}
              ticks={varXTicks}
              interval={0}
              allowDataOverflow
              height={289}
              axisLine={axisStroke}
              tickLine={axisStroke}
              tickSize={15}
              tickMargin={25}
              tick={tickStyle}
            />
            <YAxis
              type="number"
              domain={[0.99054, 1.000442]}
              ticks={varYTicks}
              interval={0}
              allowDataOverflow
              width={404}
              axisLine={axisStroke}
              tickLine={axisStroke}
              tickSize={15}
              tickMargin={35}
              tick={tickStyle}
              tickFormatter={(v: number) => v.toFixed(3)}
            />
            <Line
              dataKey="v"
              type="linear"
              stroke={BLUE}
              strokeWidth={6.25}
              dot={{ r: 13.8, fill: BLUE, stroke: BLUE, strokeWidth: 0 }}
              isAnimationActive={false}
            />
          </LineChart>
        </div>

        <svg
          width={PAGE_W}
          height={PAGE_H}
          style={{ position: 'absolute', left: 0, top: 0, pointerEvents: 'none' }}
          fontFamily={FONT}
        >
          <text x={1733} y={131} fontSize={127} textAnchor="middle">First Two Principal Components</text>
          <text x={5110} y={131} fontSize={127} textAnchor="middle">Cumulative Fraction of Variance Explained</text>
          <text x={1733} y={2804} fontSize={104} textAnchor="middle">Principal Component 1</text>
          <text x={5110} y={2804} fontSize={104} textAnchor="middle">Number of Principal Components</text>
          <text transform="translate(118,1368) rotate(-90)" fontSize={104} textAnchor="middle">Principal Component 2</text>
          <text transform="translate(3412,1368) rotate(-90)" fontSize={104} textAnchor="middle">Fraction of Total Variance Explained</text>
          <circle cx={2648} cy={297} r={36} fill={NAVY} />
          <circle cx={2648} cy={439} r={36} fill={PINK} />
          <text x={2758} y={332} fontSize={104}>{legendLabels[0]}</text>
          <text x={2758} y={474} fontSize={104}>{legendLabels[1]}</text>
        </svg>
      </div>
    </div>
  );
}
